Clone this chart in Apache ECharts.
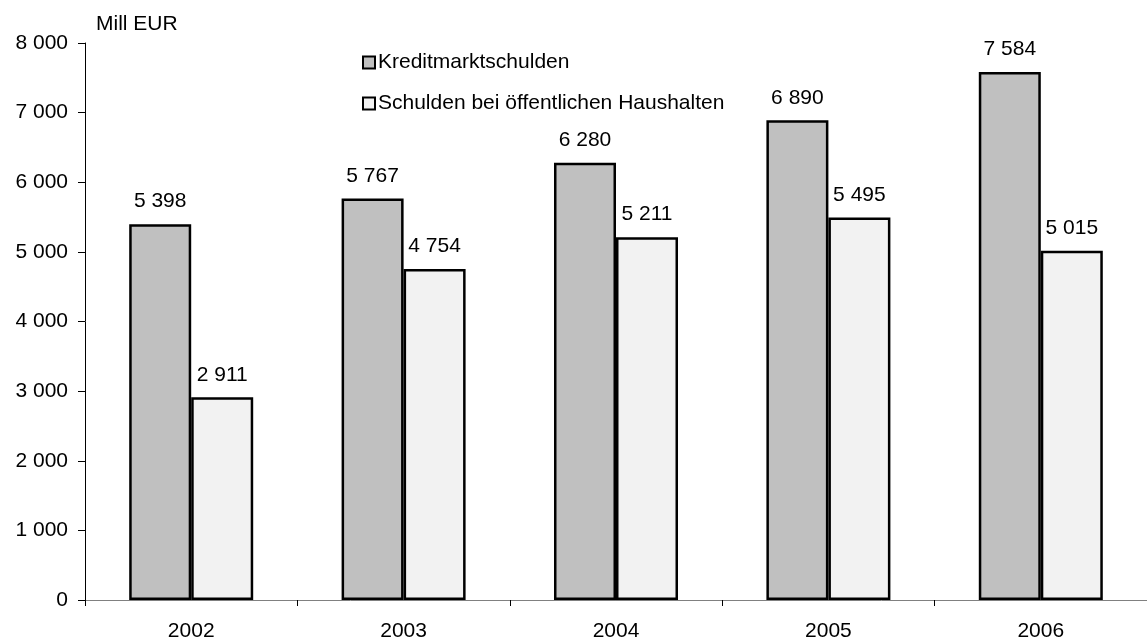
<!DOCTYPE html>
<html>
<head>
<meta charset="utf-8">
<script src="https://cdn.jsdelivr.net/npm/echarts@6/dist/echarts.min.js"></script>
<style>html,body{margin:0;padding:0;background:#fff;}#c{width:1147px;height:642px;}</style>
</head>
<body>
<div id="c"></div>
<script>
const categories = ['2002', '2003', '2004', '2005', '2006'];
const kreditmarkt = [5398, 5767, 6280, 6890, 7584];
const oeffentlich = [2911, 4754, 5211, 5495, 5015];
const seriesNames = ['Kreditmarktschulden', 'Schulden bei öffentlichen Haushalten'];
const unitLabel = 'Mill EUR';

function fmt(v) {
  return String(v).replace(/\B(?=(\d{3})+(?!\d))/g, ' ');
}
const FONT = 'Liberation Sans, Arial, sans-serif';
const FS = 21;

const chart = echarts.init(document.getElementById('c'), null, {renderer: 'canvas'});
chart.setOption({
  animation: false,
  backgroundColor: '#ffffff',
  title: {
    text: unitLabel, left: 91, top: 9,
    textStyle: {fontFamily: FONT, fontSize: FS, fontWeight: 'normal', color: '#000'}
  },
  legend: {
    orient: 'vertical', left: 357, top: 47, itemGap: 20,
    itemWidth: 12, itemHeight: 12,
    icon: 'rect',
    textStyle: {fontFamily: FONT, fontSize: FS, color: '#000', padding: [0, 0, 0, -2]},
    data: seriesNames
  },
  grid: {left: 85, right: -9, top: 43, bottom: 41, containLabel: false},
  xAxis: {
    type: 'category', data: categories,
    axisLine: {lineStyle: {color: '#808080', width: 1}},
    axisTick: {show: true, length: 6, lineStyle: {color: '#000'}},
    axisLabel: {fontFamily: FONT, fontSize: FS, color: '#000', margin: 21}
  },
  yAxis: {
    type: 'value', min: 0, max: 8000, interval: 1000,
    splitLine: {show: false},
    axisLine: {show: true, lineStyle: {color: '#000', width: 1}},
    axisTick: {show: true, length: 7, lineStyle: {color: '#000'}},
    axisLabel: {fontFamily: FONT, fontSize: FS, color: '#000', margin: 17, formatter: v => fmt(v)}
  },
  series: [
    {
      name: seriesNames[0], type: 'bar', data: kreditmarkt, barWidth: 62, barGap: '0%',
      itemStyle: {color: '#c0c0c0', borderColor: '#000', borderWidth: 2.5},
      label: {show: true, position: 'top', distance: 12, fontFamily: FONT, fontSize: FS, color: '#000', formatter: p => fmt(p.value)}
    },
    {
      name: seriesNames[1], type: 'bar', data: oeffentlich, barWidth: 62, barGap: '0%',
      itemStyle: {color: '#f2f2f2', borderColor: '#000', borderWidth: 2.5},
      label: {show: true, position: 'top', distance: 12, fontFamily: FONT, fontSize: FS, color: '#000', formatter: p => fmt(p.value)}
    }
  ]
});
</script>
</body>
</html>
